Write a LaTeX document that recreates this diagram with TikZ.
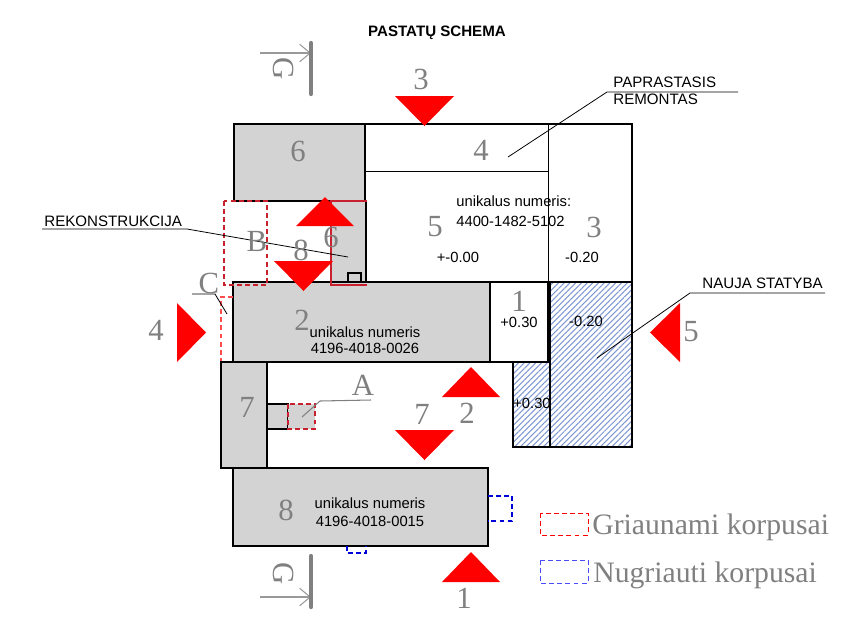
\documentclass[tikz,border=0pt]{standalone}
\usepackage{fontspec}
\setmainfont{Liberation Serif}
\setsansfont{Liberation Sans}
\usetikzlibrary{patterns.meta,arrows.meta}
\definecolor{zonegray}{HTML}{D3D3D3}
\definecolor{labelgray}{HTML}{808080}
\definecolor{hatchblue}{HTML}{7F98D2}
\definecolor{darkred}{HTML}{C8202C}
\tikzset{
	wall/.style={draw=black,line width=.7pt},
	graybox/.style={wall,fill=zonegray},
	hatchbox/.style={wall,pattern={Lines[angle=45,distance=2.3pt,line width=.6pt]},pattern color=hatchblue},
	reddash/.style={draw=darkred,line width=.7pt,dash pattern=on 2.8pt off 1.8pt},
	bluedash/.style={draw=blue!85!black,line width=.7pt,dash pattern=on 2.8pt off 1.8pt},
	redtri/.style={fill=red},
	leader/.style={draw=black,line width=.45pt},
	grayleader/.style={draw=labelgray,line width=.6pt},
	numlabel/.style={text=labelgray,font=\fontsize{17.5}{17.5}\selectfont,inner sep=0pt},
	smalltext/.style={font=\sffamily\fontsize{8.4}{9.2}\selectfont,inner sep=0pt,align=center},
	captext/.style={smalltext,align=left,anchor=west,font=\sffamily\fontsize{8.6}{10}\selectfont},
	legendtext/.style={text=labelgray,font=\fontsize{16.9}{16.9}\selectfont,inner sep=0pt,anchor=west},
	cutbar/.style={draw=labelgray,line width=2.4pt,line cap=round},
	cutarrow/.style={draw=labelgray!80,line width=.6pt,-{Straight Barb[length=6pt,width=10pt]}}
}
\begin{document}
\begin{tikzpicture}[x=.02cm,y=-.02cm]
	\useasboundingbox (0,0) rectangle (860,630);

	% white block with the two thin partitions
	\draw[wall] (365,124) rectangle (632,282);
	\draw[wall,line width=.5pt] (365,171) -- (548,171);
	\draw[wall,line width=.5pt] (548,124) -- (548,282);

	% new hatched part
	\draw[hatchbox] (550,282) rectangle (632,447);
	\draw[hatchbox] (513,362) rectangle (550,447);
	\draw[wall,fill=white] (490,282) rectangle (548,362);

	% gray buildings
	\draw[graybox] (234,124) rectangle (365,201);
	\draw[wall] (266,201) -- (331,201);
	\fill[zonegray] (331,201) rectangle (366,285);
	\draw[wall] (366,201) -- (366,282);
	\draw[wall] (348,285) -- (348,273) -- (361,273) -- (361,285);
	\draw[graybox] (233,282) rectangle (490,362);
	\draw[darkred,line width=1.6pt] (367,201) -- (331,201) -- (331,285) -- (367,285);
	\draw[wall] (490,362) -- (548,362);
	\draw[graybox] (221,362) rectangle (267,468);
	\draw[graybox] (267,404) rectangle (288,429);
	\draw[graybox] (233,468) rectangle (488,546);

	% dashed parts
	\draw[reddash] (224,201) rectangle (267,285);
	\draw[reddash,fill=zonegray] (288,404) rectangle (315,429);
	\draw[reddash,red!70] (233,297) -- (221,297) -- (221,361);
	\draw[bluedash] (488,496) -- (512,496) -- (512,521) -- (488,521);
	\draw[bluedash] (347,546) -- (347,553) -- (366,553) -- (366,546);

	% legend
	\draw[reddash,red,line width=.5pt] (540,513) rectangle (588,535);
	\draw[bluedash,blue!70,line width=.5pt] (540,560) rectangle (588,583);
	\node[legendtext] (griaunami) at (592,527) {Griaunami korpusai};
	\node[legendtext] (nugriauti) at (593,575) {Nugriauti korpusai};

	% red view triangles
	\fill[redtri] (395,96) -- (454,96) -- (424.5,126) -- cycle;
	\fill[redtri] (296,226) -- (354,226) -- (325,197) -- cycle;
	\fill[redtri] (274,261) -- (333,261) -- (303.5,291) -- cycle;
	\fill[redtri] (177,303) -- (177,362) -- (206,332.5) -- cycle;
	\fill[redtri] (680,303) -- (680,362) -- (650,332.5) -- cycle;
	\fill[redtri] (442,397) -- (500,397) -- (471,367) -- cycle;
	\fill[redtri] (395,430) -- (454,430) -- (424.5,460) -- cycle;
	\fill[redtri] (442,582) -- (500,582) -- (471,552) -- cycle;

	% leaders
	\coordinate (rekstart) at (42,229); \coordinate (rekbend) at (187,229); \coordinate (rekend) at (348,257);
	\draw[leader] (rekstart) -- (rekbend) -- (rekend);
	\coordinate (remend) at (738,92); \coordinate (rembend) at (607,92); \coordinate (remstart) at (508,157);
	\draw[leader] (remend) -- (rembend) -- (remstart);
	\coordinate (naujaend) at (825,293); \coordinate (naujabend) at (690,293); \coordinate (naujastart) at (597,358);
	\draw[leader] (naujaend) -- (naujabend) -- (naujastart);
	\coordinate (cend) at (192,294); \coordinate (cbend) at (215,294); \coordinate (cstart) at (227,314);
	\draw[leader] (cend) -- (cbend) -- (cstart);
	\coordinate (aend) at (371,400); \coordinate (abend) at (320,401); \coordinate (astart) at (302,417);
	\draw[grayleader] (aend) -- (abend) -- (astart);

	% section marks
	\coordinate (gtopa) at (260,53); \coordinate (gtopb) at (311,53);
	\coordinate (gbota) at (260,597); \coordinate (gbotb) at (311,597);
	\draw[cutarrow] (gtopa) -- (gtopb);
	\draw[cutarrow] (gbota) -- (gbotb);
	\draw[cutbar] (311,43) -- (311,94);
	\draw[cutbar] (311,556) -- (311,607);
	\node[numlabel,rotate=-90] (gtop) at (284,69) {G};
	\node[numlabel,rotate=-90] (gbot) at (284,574) {G};

	% gray numbers
	\node[numlabel] (nthree) at (421,79) {3};
	\node[numlabel] (nsixa) at (298,151) {6};
	\node[numlabel] (nfoura) at (481,150) {4};
	\node[numlabel] (nfivea) at (435,227) {5};
	\node[numlabel] (nthreeb) at (594,227) {3};
	\node[numlabel] (nsixb) at (331,237) {6};
	\node[numlabel] (neighta) at (301,250) {8};
	\node[numlabel] (nbb) at (257,241) {B};
	\node[numlabel] (ncc) at (209,283) {C};
	\node[numlabel] (nfourb) at (156,330) {4};
	\node[numlabel] (ntwoa) at (302,320) {2};
	\node[numlabel] (nonea) at (519,301) {1};
	\node[numlabel] (nfiveb) at (691,332) {5};
	\node[numlabel] (ntwob) at (467,413) {2};
	\node[numlabel] (nsevena) at (422,414) {7};
	\node[numlabel] (naa) at (363,385) {A};
	\node[numlabel] (nsevenb) at (247,407) {7};
	\node[numlabel] (neightb) at (286,510) {8};
	\node[numlabel] (noneb) at (464,598) {1};

	% texts
	\node[smalltext,font=\sffamily\bfseries\fontsize{8.6}{9}\selectfont] (title) at (437,33) {PASTATŲ SCHEMA};
	\node[captext] (remontas) at (613,91) {PAPRASTASIS\\REMONTAS};
	\node[captext] (rekonstr) at (44,221) {REKONSTRUKCIJA};
	\node[captext] (statyba) at (702,283) {NAUJA STATYBA};
	\node[smalltext,align=left,anchor=west,font=\sffamily\fontsize{8.4}{11.2}\selectfont] (numa) at (456,211) {unikalus numeris:\\4400-1482-5102};
	\node[smalltext] (numb) at (365,340) {unikalus numeris\\4196-4018-0026};
	\node[smalltext,font=\sffamily\fontsize{8.4}{10}\selectfont] (numc) at (370,512) {unikalus numeris\\4196-4018-0015};
	\node[smalltext] (lvla) at (458,257) {+-0.00};
	\node[smalltext] (lvlb) at (582,257) {-0.20};
	\node[smalltext] (lvlc) at (519,322) {+0.30};
	\node[smalltext] (lvld) at (586,321) {-0.20};
	\node[smalltext] (lvle) at (532,403) {+0.30};
\end{tikzpicture}
\end{document}
